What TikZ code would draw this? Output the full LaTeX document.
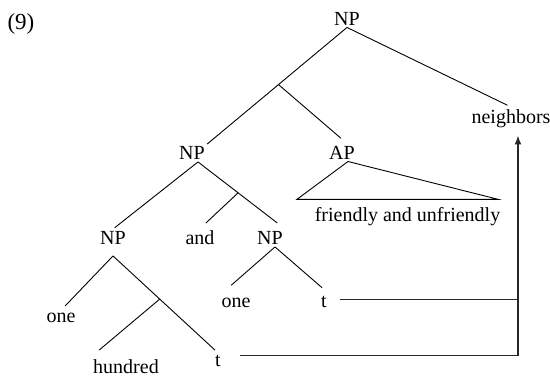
\documentclass[tikz,border=0pt]{standalone}
\usepackage{fontspec}
\setmainfont{Liberation Serif}
\usetikzlibrary{arrows.meta, positioning, calc}

\begin{document}
\begin{tikzpicture}[x=0.5pt,y=-0.5pt]
        \tikzset{
          mot/.style={
            inner sep=1pt,
            font=\fontsize{10}{12}\selectfont,text=black,
          },
          branche/.style={line width=0.45pt,shorten >=#1},
          branche/.default=3pt,
          trace/.style={line width=0.6pt,draw=black!85},
          fleche/.style={trace,-{Latex[length=4.5pt,width=3.4pt]}},
          }
        \useasboundingbox (0,0) rectangle (550,375);
        \node[mot, font=\fontsize{11.5}{14}\selectfont] (num) at (21,24) {(9)};
        % arbre
        \node[mot] (racine) at (347,18.5) {NP};
        \node[mot] (voisins) at (511,118.5) {neighbors};
        \node[mot] (npA) at (192,153) {NP};
        \node[mot] (ap) at (342,152.5) {AP};
        \node[mot] (amical) at (407.5,216.5) {friendly and unfriendly};
        \node[mot] (npB) at (113,238) {NP};
        \node[mot] (et) at (200,238) {and};
        \node[mot] (npC) at (270,238) {NP};
        \node[mot] (unA) at (61,317.5) {one};
        \node[mot] (cent) at (126,366.5) {hundred};
        \node[mot] (tA) at (218,361) {t};
        \node[mot] (unB) at (236,303) {one};
        \node[mot] (tB) at (324,302) {t};

        \coordinate (npA bas) at ([xshift=3pt]npA.south);
        \coordinate (npB bas) at ([yshift=-4.5pt]npB.south);
        \coordinate (npC bas) at ([xshift=2.5pt]npC.south);
        \coordinate (ap bas) at ([xshift=3pt]ap.south);
        \coordinate (b1) at ($(racine.south)!.49!(npA.north east)$);
        \coordinate (b2) at ($(npA bas)!.46!(npC.north east)$);
        \coordinate (b3) at ($(npB bas)!.445!(tA.north)$);
        \coordinate (tri g) at (297,199.3);
        \coordinate (tri d) at (498,199.3);
        \coordinate (coin) at (518,0);

        \draw[branche=0pt] (racine.south) -- (npA.north east);
        \draw[branche=2pt] (racine.south) -- (voisins.north);
        \draw[branche=4pt] (b1) -- ([xshift=2.5pt]ap.north);
        \draw[branche=1pt] (npA bas) -- (npB.north);
        \draw[branche=5pt] (npA bas) -- (npC.north east);
        \draw[branche=4pt] (b2) -- (et.north);
        \draw[branche] (npB bas) -- (unA.north);
        \draw[branche=2pt] (npB bas) -- (tA.north);
        \draw[branche=5.5pt] (b3) -- (cent.north west);
        \draw[branche=8pt] (npC bas) -- (unB.north west);
        \draw[branche=4.7pt] (npC bas) -- (tB.north east);
        \draw[line width=0.45pt] (ap bas) -- (tri g) -- (tri d) -- cycle;

        % mouvement
        \draw[fleche,shorten <=8.5pt,shorten >=2.75pt]
          ([yshift=2.75pt]tA.east) -- ([yshift=2.75pt]tA.east -| coin) -- (coin |- voisins.south);
        \draw[trace,shorten <=5.6pt] ([yshift=1.3pt]tB.east) -- ([yshift=1.3pt]tB.east -| coin);
      \end{tikzpicture}
\end{document}
